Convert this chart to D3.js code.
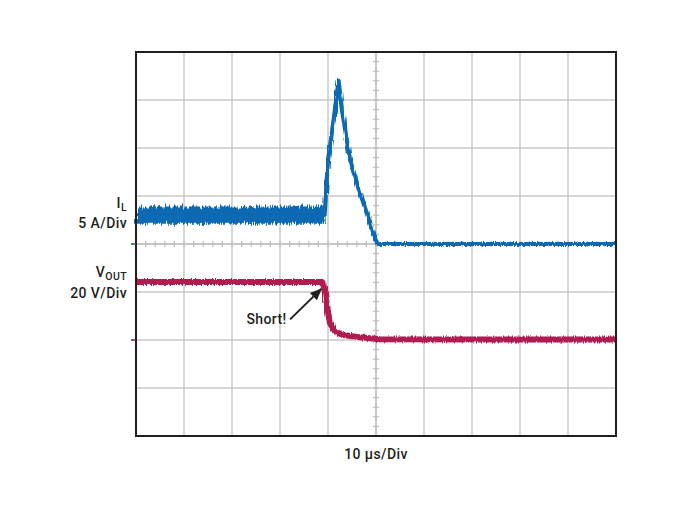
<!DOCTYPE html>
<html>
<head>
<meta charset="utf-8">
<script src="https://cdn.jsdelivr.net/npm/d3@7"></script>
<style>
  html, body { margin: 0; padding: 0; background: #ffffff; }
  text { font-family: Roboto, "Liberation Sans", sans-serif; font-weight: 500; fill: #231f20; letter-spacing: 0.4px; }
</style>
</head>
<body>
<div id="chart"></div>
<script>
// time axis in microseconds (10 us/Div, 10 divisions)
var xTicks = [0, 10, 20, 30, 40, 50, 60, 70, 80, 90, 100];
// vertical divisions
var yTicks = [-4, -3, -2, -1, 0, 1, 2, 3, 4];

// inductor current, amps (5 A/Div, ground at centre line)
var ilTime  = [0, 39.3, 39.6, 40.0, 41.0, 42.2, 42.9, 44.6, 46.7, 48.75, 50.3, 100];
var ilAmps  = [3.0, 3.0, 5.5, 8.75, 12.2, 17.0, 14.0, 8.75, 5.3, 2.2, 0, 0];
var ilNoiseEnd = 39.3;   // noisy band before the short
var ilNoise = 0.9;       // band half width, amps

// output voltage, volts (20 V/Div, ground two divisions below centre)
var vTime  = [0, 39.0, 39.7, 40.4, 41.5, 43.1, 46.7, 50.8, 100];
var vVolts = [24.2, 24.2, 15.3, 7.1, 3.5, 2.1, 1.1, 0.3, 0.2];

// annotation, data units of VOUT channel
var shortLabel = "Short!";
var shortTip  = [38.6, 21.3];
var shortTail = [32.1, 8.6];
var shortText = [31.4, 6.6];

var width = 686, height = 515;
var margin = {top: 52, left: 136, right: 70, bottom: 79};

var svg = d3.select("#chart").append("svg")
  .attr("width", width)
  .attr("height", height);

svg.append("rect").attr("width", width).attr("height", height).attr("fill", "#ffffff");

var x = d3.scaleLinear().domain([0, 100]).range([margin.left, width - margin.right]);
var yDiv = d3.scaleLinear().domain([-4, 4]).range([height - margin.bottom, margin.top]);
var ilY = function(a){ return yDiv(a / 5); };
var vY  = function(v){ return yDiv(-2 + v / 20); };

var defs = svg.append("defs");
function fuzz(id, freq, scale, seed){
  var f = defs.append("filter").attr("id", id)
    .attr("filterUnits", "userSpaceOnUse")
    .attr("x", 0).attr("y", 0).attr("width", width).attr("height", height);
  f.append("feTurbulence").attr("type", "fractalNoise")
    .attr("baseFrequency", freq).attr("numOctaves", 2).attr("seed", seed).attr("result", "n");
  f.append("feDisplacementMap").attr("in", "SourceGraphic").attr("in2", "n")
    .attr("scale", scale).attr("xChannelSelector", "R").attr("yChannelSelector", "G");
}
fuzz("fuzzBig", "0.9 0.05", 10, 3);
fuzz("fuzzSmall", "0.9 0.05", 4, 7);

// grid
var grid = svg.append("g").attr("class", "grid");
grid.selectAll("line.gx").data(xTicks.slice(1, -1)).enter().append("line")
  .attr("x1", function(d){ return x(d); }).attr("x2", function(d){ return x(d); })
  .attr("y1", yDiv(4)).attr("y2", yDiv(-4))
  .attr("stroke", "#c8c8c8").attr("stroke-width", function(d){ return d === 50 ? 2 : 1.5; });
grid.selectAll("line.gy").data(yTicks.slice(1, -1)).enter().append("line")
  .attr("y1", function(d){ return yDiv(d); }).attr("y2", function(d){ return yDiv(d); })
  .attr("x1", x(0)).attr("x2", x(100))
  .attr("stroke", "#c8c8c8").attr("stroke-width", function(d){ return d === 0 ? 2 : 1.5; });

// minor ticks on centre lines
var minorX = d3.range(0, 100.01, 2);
var minorY = d3.range(-4, 4.01, 0.2);
grid.selectAll("line.mx").data(minorX).enter().append("line")
  .attr("x1", function(d){ return x(d); }).attr("x2", function(d){ return x(d); })
  .attr("y1", yDiv(0) - 3).attr("y2", yDiv(0) + 3)
  .attr("stroke", "#bdbdbd").attr("stroke-width", 1.2);
grid.selectAll("line.my").data(minorY).enter().append("line")
  .attr("y1", function(d){ return yDiv(d); }).attr("y2", function(d){ return yDiv(d); })
  .attr("x1", x(50) - 3).attr("x2", x(50) + 3)
  .attr("stroke", "#bdbdbd").attr("stroke-width", 1.2);

// traces
var il = ilTime.map(function(t, i){ return [t, ilAmps[i]]; });
var vout = vTime.map(function(t, i){ return [t, vVolts[i]]; });

var ilBand = il.filter(function(d){ return d[0] <= ilNoiseEnd; });
svg.append("path").datum(ilBand)
  .attr("d", d3.area()
    .x(function(d){ return x(d[0]); })
    .y0(function(d){ return ilY(d[1] - ilNoise); })
    .y1(function(d){ return ilY(d[1] + ilNoise); }))
  .attr("fill", "#0a6ab2")
  .attr("filter", "url(#fuzzBig)");

svg.append("path").datum(il)
  .attr("d", d3.line().x(function(d){ return x(d[0]); }).y(function(d){ return ilY(d[1]); }))
  .attr("fill", "none").attr("stroke", "#0a6ab2").attr("stroke-width", 4.2)
  .attr("stroke-linejoin", "round")
  .attr("filter", "url(#fuzzSmall)");

svg.append("path").datum(vout)
  .attr("d", d3.line().x(function(d){ return x(d[0]); }).y(function(d){ return vY(d[1]); }))
  .attr("fill", "none").attr("stroke", "#b01c50").attr("stroke-width", 6)
  .attr("stroke-linejoin", "round")
  .attr("filter", "url(#fuzzSmall)");

// frame
svg.append("rect")
  .attr("x", x(0)).attr("y", yDiv(4))
  .attr("width", x(100) - x(0)).attr("height", yDiv(-4) - yDiv(4))
  .attr("fill", "none").attr("stroke", "#231f20").attr("stroke-width", 2);

// ground markers
svg.append("line").attr("x1", x(0) - 5).attr("x2", x(0))
  .attr("y1", ilY(0)).attr("y2", ilY(0)).attr("stroke", "#1d4f7a").attr("stroke-width", 1.5);
svg.append("line").attr("x1", x(0) - 5).attr("x2", x(0))
  .attr("y1", vY(0)).attr("y2", vY(0)).attr("stroke", "#7a1a3a").attr("stroke-width", 1.5);

// channel labels
var lx = x(0) - 9;
var fs = 14;
var t1 = svg.append("text").attr("x", lx).attr("y", 208).attr("text-anchor", "end").attr("font-size", fs);
t1.append("tspan").text("I");
t1.append("tspan").attr("font-size", 10.5).attr("dy", 3).text("L");
svg.append("text").attr("x", lx).attr("y", 228).attr("text-anchor", "end").attr("font-size", fs).text("5 A/Div");
var t2 = svg.append("text").attr("x", lx).attr("y", 277).attr("text-anchor", "end").attr("font-size", fs);
t2.append("tspan").text("V");
t2.append("tspan").attr("font-size", 10.5).attr("dy", 3).text("OUT");
svg.append("text").attr("x", lx).attr("y", 298).attr("text-anchor", "end").attr("font-size", fs).text("20 V/Div");

// time label
svg.append("text").attr("x", x(50)).attr("y", 459).attr("text-anchor", "middle").attr("font-size", fs).text("10 \u00b5s/Div");

// annotation
defs.append("marker").attr("id", "arrow")
  .attr("viewBox", "0 0 12 10").attr("refX", 11).attr("refY", 5)
  .attr("markerWidth", 14).attr("markerHeight", 10).attr("markerUnits", "userSpaceOnUse")
  .attr("orient", "auto")
  .append("path").attr("d", "M0,0 L12,5 L0,10 z").attr("fill", "#231f20");
svg.append("line")
  .attr("x1", x(shortTail[0])).attr("y1", vY(shortTail[1]))
  .attr("x2", x(shortTip[0])).attr("y2", vY(shortTip[1]))
  .attr("stroke", "#231f20").attr("stroke-width", 2)
  .attr("marker-end", "url(#arrow)");
svg.append("text").attr("x", x(shortText[0])).attr("y", vY(shortText[1]))
  .attr("text-anchor", "end").attr("font-size", fs).text(shortLabel);
</script>
</body>
</html>
